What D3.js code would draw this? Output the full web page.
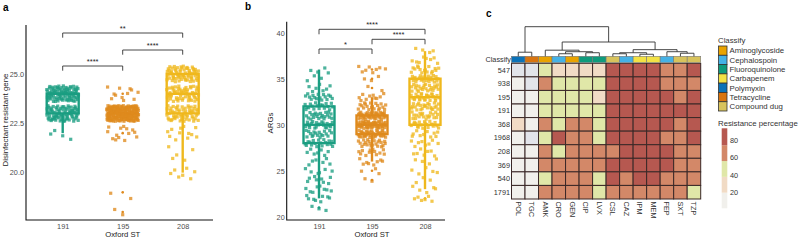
<!DOCTYPE html>
<html>
<head>
<meta charset="utf-8">
<script src="https://cdn.jsdelivr.net/npm/d3@7"></script>
<style>
  body { margin: 0; background: #fff; }
  svg { font-family: "Liberation Sans", Arial, sans-serif; }
</style>
</head>
<body>
<div id="chart"></div>
<script>
// =============================================
// DATA
// =============================================
const groups = ["191", "195", "208"];
const groupColors = ["#1b9e82", "#df8a1d", "#efb81d"];

// panel a: disinfectant resistant genes per isolate (count of isolates per gene number)
const dgLevels   = [18, 19, 20, 21, 22, 23, 24, 25];
const dgCount191 = [0, 0, 0, 0, 4, 80, 90, 0];
const dgCount195 = [2, 2, 0, 0, 14, 200, 12, 0];
const dgCount208 = [0, 0, 7, 5, 12, 60, 60, 70];
// box stats: [lower whisker, q1, median, q3, upper whisker]
const dgBox191 = [22, 23, 24, 24, 24];
const dgBox195 = [23, 23, 23, 23, 23];
const dgBox208 = [20, 23, 24, 25, 25];
const dgTicks = [20, 22.5, 25];
const dgPairs = [["191", "208"], ["195", "208"], ["191", "195"]];
const dgSig = ["**", "****", "****"];

// panel b: ARGs per isolate
const argLevels   = [21, 22, 23, 24, 25, 26, 27, 28, 29, 30, 31, 32, 33, 34, 35, 36, 37, 38];
const argCount191 = [3, 8, 8, 8, 6, 6, 7, 18, 18, 22, 22, 18, 16, 7, 3, 4, 0, 0];
const argCount195 = [0, 0, 0, 2, 3, 8, 12, 22, 40, 55, 45, 20, 10, 2, 3, 8, 0, 0];
const argCount208 = [0, 6, 5, 3, 5, 4, 7, 8, 10, 20, 20, 24, 26, 24, 24, 16, 8, 4];
const argBox191 = [22, 28, 30, 32, 36];
const argBox195 = [26, 29, 30, 31, 33];
const argBox208 = [23, 30, 33, 35, 38];
const argTicks = [20, 25, 30, 35, 40];
const argPairs = [["191", "208"], ["195", "208"], ["191", "195"]];
const argSig = ["****", "****", "*"];

// panel c: resistance percentage heatmap
const stRows = ["547", "938", "195", "191", "368", "1968", "208", "369", "540", "1791"];
const drugs = ["POL", "TGC", "AMK", "CRO", "GEN", "CIP", "LVX", "CSL", "CAZ", "IPM", "MEM", "FEP", "SXT", "TZP"];
const drugClass = ["Polymyxin", "Tetracycline", "Aminoglycoside", "Cephalospoin", "Aminoglycoside",
  "Fluoroquinolone", "Fluoroquinolone", "Compound dug", "Cephalospoin", "Carbapenem", "Carbapenem",
  "Cephalospoin", "Compound dug", "Compound dug"];
const resistance = [
  [0, 0, 48, 30, 30, 30, 30, 85, 85, 85, 85, 66, 66, 85],
  [10, 0, 66, 48, 48, 48, 48, 85, 85, 85, 85, 66, 66, 66],
  [10, 10, 48, 48, 48, 48, 30, 85, 85, 85, 85, 85, 66, 85],
  [10, 10, 48, 48, 48, 48, 48, 85, 85, 85, 85, 85, 88, 85],
  [30, 10, 66, 48, 66, 66, 48, 85, 85, 85, 85, 85, 66, 85],
  [10, 0, 48, 85, 66, 66, 48, 85, 85, 85, 85, 66, 66, 85],
  [10, 10, 66, 48, 66, 66, 66, 66, 85, 85, 85, 85, 66, 66],
  [10, 10, 66, 66, 66, 66, 66, 85, 85, 85, 85, 85, 66, 66],
  [10, 10, 48, 66, 66, 66, 48, 85, 66, 85, 85, 66, 66, 66],
  [10, 10, 66, 66, 66, 66, 48, 66, 66, 66, 66, 66, 66, 48]
];
// column clustering, hclust style: negative = leaf (1-based drug index), positive = earlier merge
const dendroMerge = [
  [-10, -11, 2], [-4, -5, 2.5], [-8, -9, 2.5], [-13, -14, 3], [-6, -7, 3.5],
  [3, 1, 3.5], [-1, -2, 4], [2, 5, 4.5], [-12, 4, 4.5], [-3, 8, 6],
  [6, 9, 6.5], [10, 11, 14], [7, 12, 29]
];
const classNames = ["Aminoglycoside", "Cephalospoin", "Fluoroquinolone", "Carbapenem", "Polymyxin", "Tetracycline", "Compound dug"];
const classColors = ["#e9a300", "#45b2e6", "#0f9b7c", "#f3e244", "#0b72b8", "#d8740f", "#d8c35c"];
const resBreaks = [1, 20, 38, 56, 74];
const resColors = ["#e2e4ea", "#f1f0ec", "#f1dbc5", "#e0e7a8", "#d38868", "#b65850"];
const resLegendTicks = [20, 40, 60, 80];

// =============================================
// SETUP
// =============================================
const svg = d3.select("#chart").append("svg")
  .attr("width", 800)
  .attr("height", 242);

function halton(i, b) {
  let f = 1, r = 0;
  while (i > 0) { f /= b; r += f * (i % b); i = Math.floor(i / b); }
  return r;
}

// =============================================
// BOX + JITTER PANELS
// =============================================
function drawBoxPanel(cfg) {
  const g = svg.append("g");

  const x = d3.scalePoint().domain(groups).range([cfg.xFirst, cfg.xLast]);
  const y = d3.scaleLinear().domain(cfg.yDomain).range([cfg.bottom, cfg.top]);
  const color = d3.scaleOrdinal().domain(groups).range(groupColors);

  // axes
  const yAxis = g.append("g")
    .attr("transform", `translate(${cfg.left},0)`)
    .call(d3.axisLeft(y).tickValues(cfg.ticks).tickFormat(cfg.fmt).tickSize(0).tickPadding(2));
  yAxis.select(".domain").remove();
  yAxis.selectAll("text").attr("fill", "#4d4d4d").style("font-size", "7.3px");

  const xAxis = g.append("g")
    .attr("transform", `translate(0,${cfg.bottom})`)
    .call(d3.axisBottom(x).tickSize(0).tickPadding(4));
  xAxis.select(".domain").remove();
  xAxis.selectAll("text").attr("fill", "#4d4d4d").style("font-size", "7.3px");

  g.append("path")
    .attr("d", `M${cfg.left},${cfg.top}V${cfg.bottom}H${cfg.right}`)
    .attr("fill", "none")
    .attr("stroke", "#111")
    .attr("stroke-width", 1.1);

  // boxes
  cfg.boxes.forEach((b, i) => {
    const cx = x(groups[i]);
    const c = groupColors[i];
    const [lw, q1, med, q3, uw] = b;
    const hw = cfg.boxWidth / 2;
    const bg = g.append("g").attr("stroke", c).attr("stroke-width", 2.4).attr("fill", "none");
    if (uw > q3) bg.append("line").attr("x1", cx).attr("x2", cx).attr("y1", y(q3)).attr("y2", y(uw));
    if (lw < q1) bg.append("line").attr("x1", cx).attr("x2", cx).attr("y1", y(q1)).attr("y2", y(lw));
    bg.append("path")
      .attr("d", `M${cx - hw},${y(q3)}H${cx + hw}V${y(q1)}H${cx - hw}Z`)
      .attr("fill", "#fff");
    bg.append("line").attr("x1", cx - hw).attr("x2", cx + hw).attr("y1", y(med)).attr("y2", y(med));

    // outliers at center
    cfg.levels.forEach((v, k) => {
      if (cfg.counts[i][k] > 0 && (v < lw || v > uw)) {
        g.append("circle").attr("cx", cx).attr("cy", y(v)).attr("r", 1.3).attr("fill", c);
      }
    });
  });

  // jittered points
  cfg.counts.forEach((counts, i) => {
    const pts = [];
    let idx = 0;
    cfg.levels.forEach((v, k) => {
      for (let n = 0; n < counts[k]; n++) {
        idx++;
        pts.push({ v, jx: halton(idx, 2) - 0.5, jy: halton(idx, 3) - 0.5 });
      }
    });
    const s = 3.2;
    g.append("g").selectAll("rect")
      .data(pts)
      .join("rect")
      .attr("x", d => x(groups[i]) + d.jx * 2 * cfg.jitter - s / 2)
      .attr("y", d => y(d.v + d.jy * 0.8) - s / 2)
      .attr("width", s)
      .attr("height", s)
      .attr("fill", color(groups[i]))
      .attr("fill-opacity", 0.78);
  });

  // significance brackets
  cfg.pairs.forEach((p, i) => {
    const by = cfg.bracketY[i];
    const x1 = x(p[0]), x2 = x(p[1]);
    g.append("path")
      .attr("d", `M${x1},${by + cfg.bracketTick}V${by}H${x2}V${by + cfg.bracketTick}`)
      .attr("fill", "none")
      .attr("stroke", "#333")
      .attr("stroke-width", 0.9);
    g.append("text")
      .attr("x", (x1 + x2) / 2)
      .attr("y", by - 2.3)
      .attr("text-anchor", "middle")
      .style("font-size", "7.5px")
      .attr("fill", "#222")
      .text(cfg.sig[i]);
  });

  // titles
  g.append("text")
    .attr("x", (cfg.xFirst + cfg.xLast) / 2)
    .attr("y", 237)
    .attr("text-anchor", "middle")
    .style("font-size", "7.7px")
    .attr("fill", "#222")
    .text("Oxford ST");

  g.append("text")
    .attr("transform", `translate(${cfg.yTitleX},${cfg.yTitleY}) rotate(-90)`)
    .attr("text-anchor", "middle")
    .style("font-size", "7.9px")
    .attr("fill", "#222")
    .text(cfg.yTitle);

  g.append("text")
    .attr("x", cfg.letterX)
    .attr("y", cfg.letterY)
    .style("font-size", "10px")
    .style("font-weight", "bold")
    .text(cfg.letter);
}

drawBoxPanel({
  letter: "a", letterX: 3, letterY: 11,
  left: 26, right: 213, top: 25, bottom: 220,
  xFirst: 62.7, xLast: 182.7,
  yDomain: [17.6, 27.48],
  ticks: dgTicks, fmt: d3.format(".1f"),
  levels: dgLevels,
  counts: [dgCount191, dgCount195, dgCount208],
  boxes: [dgBox191, dgBox195, dgBox208],
  boxWidth: 32, jitter: 16,
  pairs: dgPairs, sig: dgSig,
  bracketY: [33, 50, 66], bracketTick: 4.7,
  yTitle: "Disinfectant resistant gene", yTitleX: 7.5, yTitleY: 120
});

drawBoxPanel({
  letter: "b", letterX: 245, letterY: 10,
  left: 286.7, right: 445, top: 21.7, bottom: 220,
  xFirst: 319, xLast: 425,
  yDomain: [19.65, 41.2],
  ticks: argTicks, fmt: d3.format("d"),
  levels: argLevels,
  counts: [argCount191, argCount195, argCount208],
  boxes: [argBox191, argBox195, argBox208],
  boxWidth: 31, jitter: 14,
  pairs: argPairs, sig: argSig,
  bracketY: [29.3, 39.3, 49], bracketTick: 5,
  yTitle: "ARGs", yTitleX: 272.5, yTitleY: 123
});

// =============================================
// HEATMAP
// =============================================
const hm = svg.append("g");
const hx = d3.scaleBand().domain(drugs).range([511.5, 700.7]);
const hy = d3.scaleBand().domain(stRows).range([63.3, 199]);
const resColor = d3.scaleThreshold().domain(resBreaks).range(resColors);
const classColor = d3.scaleOrdinal().domain(classNames).range(classColors);

const cells = [];
stRows.forEach((r, i) => drugs.forEach((d, j) => cells.push({ row: r, drug: d, value: resistance[i][j] })));

hm.append("g").selectAll("rect")
  .data(cells)
  .join("rect")
  .attr("x", d => hx(d.drug))
  .attr("y", d => hy(d.row))
  .attr("width", hx.bandwidth())
  .attr("height", hy.bandwidth())
  .attr("fill", d => resColor(d.value))
  .attr("stroke", "#3a2827")
  .attr("stroke-width", 1);

// classify annotation bar
hm.append("g").selectAll("rect")
  .data(drugs)
  .join("rect")
  .attr("x", d => hx(d))
  .attr("y", 56.3)
  .attr("width", hx.bandwidth())
  .attr("height", 6.3)
  .attr("fill", (d, i) => classColor(drugClass[i]))
  .attr("stroke", "#777")
  .attr("stroke-width", 0.6);

// row labels
hm.append("g").selectAll("text")
  .data(stRows)
  .join("text")
  .attr("x", 510)
  .attr("y", d => hy(d) + hy.bandwidth() / 2)
  .attr("dy", "0.35em")
  .attr("text-anchor", "end")
  .style("font-size", "7.3px")
  .attr("fill", "#333")
  .text(d => d);

hm.append("text")
  .attr("x", 511)
  .attr("y", 59.5)
  .attr("dy", "0.35em")
  .attr("text-anchor", "end")
  .style("font-size", "7.3px")
  .attr("fill", "#333")
  .text("Classify");

// column labels
hm.append("g").selectAll("text")
  .data(drugs)
  .join("text")
  .attr("transform", d => `translate(${hx(d) + hx.bandwidth() / 2},201.5) rotate(90)`)
  .attr("dy", "0.35em")
  .style("font-size", "7.3px")
  .attr("fill", "#333")
  .text(d => d);

hm.append("text")
  .attr("x", 486)
  .attr("y", 17)
  .style("font-size", "10px")
  .style("font-weight", "bold")
  .text("c");

// dendrogram
const dy = d3.scaleLinear().domain([0, 29]).range([56.3, 26.7]);
const nodes = [];
function nodeInfo(ref) {
  if (ref < 0) {
    const d = drugs[-ref - 1];
    return { x: hx(d) + hx.bandwidth() / 2, h: 0 };
  }
  return nodes[ref - 1];
}
const dendroSegs = [];
dendroMerge.forEach(m => {
  const a = nodeInfo(m[0]), b = nodeInfo(m[1]);
  dendroSegs.push(`M${a.x},${dy(a.h)}V${dy(m[2])}H${b.x}V${dy(b.h)}`);
  nodes.push({ x: (a.x + b.x) / 2, h: m[2] });
});
hm.append("path")
  .attr("d", dendroSegs.join(""))
  .attr("fill", "none")
  .attr("stroke", "#333")
  .attr("stroke-width", 0.9);

// =============================================
// LEGENDS
// =============================================
const lg = svg.append("g");
lg.append("text").attr("x", 718).attr("y", 42.7).style("font-size", "7.8px").attr("fill", "#333").text("Classify");

const swY = d3.scaleBand().domain(classNames).range([46, 111]);
lg.append("g").selectAll("rect")
  .data(classNames)
  .join("rect")
  .attr("x", 718.5)
  .attr("y", d => swY(d))
  .attr("width", 8.5)
  .attr("height", swY.bandwidth())
  .attr("fill", d => classColor(d))
  .attr("stroke", "#333")
  .attr("stroke-width", 0.8);
lg.append("g").selectAll("text")
  .data(classNames)
  .join("text")
  .attr("x", 729.5)
  .attr("y", d => swY(d) + swY.bandwidth() / 2)
  .attr("dy", "0.35em")
  .style("font-size", "7.8px")
  .attr("fill", "#333")
  .text(d => d);

lg.append("text").attr("x", 718).attr("y", 126).style("font-size", "7.8px").attr("fill", "#333").text("Resistance percentage");

const ly = d3.scaleLinear().domain([2.2, 93.3]).range([208.3, 128.3]);
const legendSteps = [2.2].concat(resBreaks.slice(1), [93.3]);
lg.append("g").selectAll("rect")
  .data(d3.pairs(legendSteps))
  .join("rect")
  .attr("x", 721.7)
  .attr("y", d => ly(d[1]))
  .attr("width", 5.6)
  .attr("height", d => ly(d[0]) - ly(d[1]))
  .attr("fill", d => resColor(d[0]));
lg.append("g").selectAll("text")
  .data(resLegendTicks)
  .join("text")
  .attr("x", 730)
  .attr("y", d => ly(d))
  .attr("dy", "0.35em")
  .style("font-size", "7.3px")
  .attr("fill", "#333")
  .text(d => d);
</script>
</body>
</html>
